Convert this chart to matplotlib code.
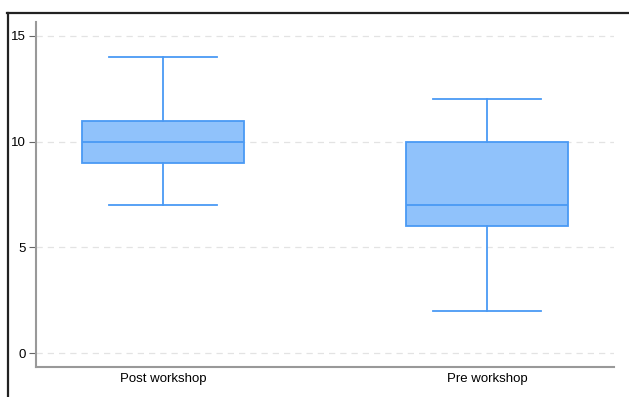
import matplotlib
matplotlib.use("Agg")
import matplotlib.pyplot as plt
from matplotlib.lines import Line2D

plt.rcParams["font.family"] = ["Liberation Sans", "DejaVu Sans"]

# Box summary stats
groups = ["Post workshop", "Pre workshop"]
medians = [10, 7]
q1 = [9, 6]
q3 = [11, 10]
whisk_lo = [7, 2]
whisk_hi = [14, 12]
yticks = [0, 5, 10, 15]

FACE = "#90c2fb"
EDGE = "#4a9af4"

stats = []
for i, g in enumerate(groups):
    stats.append({"label": g, "med": medians[i], "q1": q1[i], "q3": q3[i],
                  "whislo": whisk_lo[i], "whishi": whisk_hi[i], "fliers": []})

fig = plt.figure(figsize=(6.29, 3.97), dpi=100)
ax = fig.add_axes([0.0572, 0.0756, 0.919, 0.869])

lw = 1.3
ax.bxp(stats, positions=[1, 2], widths=0.497, capwidths=0.333,
       patch_artist=True, showfliers=False,
       boxprops=dict(facecolor=FACE, edgecolor=EDGE, linewidth=lw),
       medianprops=dict(color=EDGE, linewidth=lw),
       whiskerprops=dict(color=EDGE, linewidth=lw),
       capprops=dict(color=EDGE, linewidth=lw), zorder=3)

ax.set_xlim(0.608, 2.392)
ax.set_ylim(-0.66, 15.66)
ax.set_yticks(yticks)
ax.set_xticks([1, 2])
ax.set_xticklabels(groups, fontsize=9.5)
ax.tick_params(axis="y", labelsize=9.5, length=5, width=0.8, color="#666666", pad=2)
ax.tick_params(axis="x", length=0, pad=4)

ax.grid(axis="y", linestyle=(0, (5, 4)), color="#e3e3e3", linewidth=0.9, zorder=0)
ax.set_axisbelow(True)

for s in ["top", "right"]:
    ax.spines[s].set_visible(False)
for s in ["left", "bottom"]:
    ax.spines[s].set_color("#999999")
    ax.spines[s].set_linewidth(1.5)

# black frame along top and left of the screenshot
fig.add_artist(Line2D([7 / 629, 1.0], [1 - 13 / 397, 1 - 13 / 397],
                      transform=fig.transFigure, color="#222222", linewidth=1.6))
fig.add_artist(Line2D([8 / 629, 8 / 629], [0, 1 - 13 / 397],
                      transform=fig.transFigure, color="#222222", linewidth=1.6))

fig.savefig("out.png", dpi=100)
